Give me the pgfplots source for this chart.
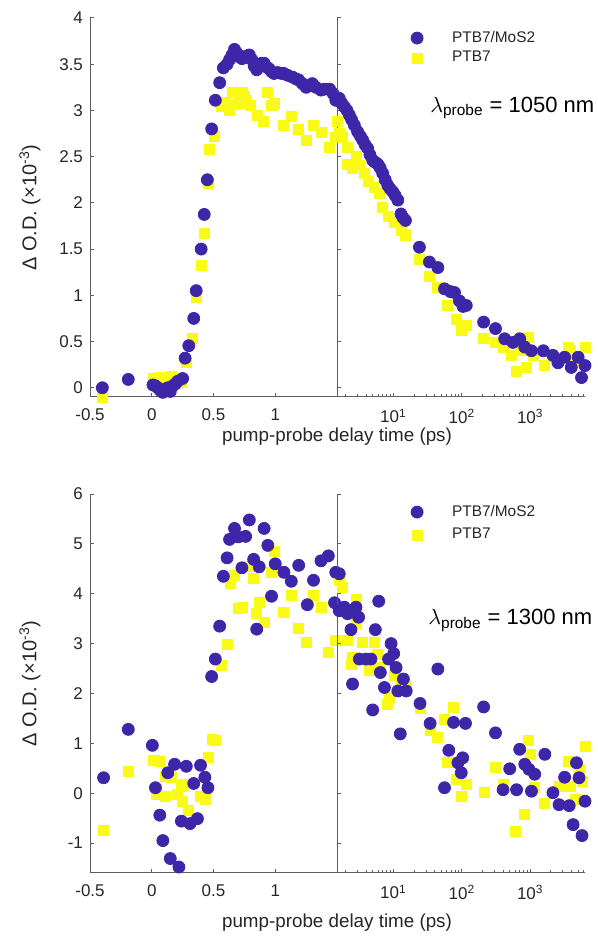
\documentclass[border=0pt]{standalone}
\usepackage{pgfplots}
\pgfplotsset{compat=1.18}
\usepackage{fontspec}
\setmainfont{Liberation Sans}

\definecolor{pblue}{RGB}{62,38,168}
\definecolor{pyellow}{RGB}{249,251,21}
\definecolor{axc}{RGB}{95,95,95}
\definecolor{txt}{RGB}{38,38,38}

\tikzset{
  sblue/.style={only marks, mark=*, mark size=3pt, mark options={fill=pblue, draw=pblue}},
  syel/.style={only marks, mark=square*, mark size=2.5pt, mark options={fill=pyellow, draw=pyellow}},
}

\pgfplotsset{
  panel/.style={
    scale only axis, clip=false, height=189.5pt,
    axis x line*=bottom, axis y line*=left,
    axis line style={draw=axc, line width=0.5pt},
    every tick/.style={draw=axc, line width=0.5pt},
    tick align=inside, major tick length=2pt, minor tick length=1.4pt,
    ticklabel style={font=\fontsize{8.5}{10}\selectfont, text=txt},
    xticklabel style={yshift=-2.5pt},
  },
  lin/.style={panel, width=123.5pt, xmin=-0.5, xmax=1.5,
    xtick={-0.5,0,0.5,1}, xticklabels={-0.5,0,0.5,1},
    ylabel style={at={(axis description cs:-0.243,0.5)}, anchor=center,
      font=\fontsize{10}{12}\selectfont, text=txt}},
  logp/.style={panel, width=124pt, xmin=1.5, xmax=6300,
    xtick={10,100,1000},
    xticklabels={10\textsuperscript{1},10\textsuperscript{2},10\textsuperscript{3}},
    minor xtick={2,3,4,5,6,7,8,9,20,30,40,50,60,70,80,90,200,300,400,500,600,700,800,900,2000,3000,4000,5000,6000},
    yticklabels={},
    legend cell align=left,
    legend style={at={(rel axis cs:0.323,1)}, anchor=north west, xshift=-4pt, yshift=-5.5pt,
      draw=none, fill=none, inner sep=0pt, outer sep=0pt, row sep=1pt,
      nodes={inner sep=1pt},
      font=\fontsize{7.7}{9}\selectfont, text=txt}},
}

\begin{document}
\begin{tikzpicture}
\useasboundingbox (0,0) rectangle (299pt,468pt);

% ---------- top panel, 1050 nm ----------
\begin{axis}[lin, at={(45pt,269.5pt)}, anchor=south west, ymin=-0.1, ymax=4,
  ytick={0,0.5,1,1.5,2,2.5,3,3.5,4}, yticklabels={0,0.5,1,1.5,2,2.5,3,3.5,4},
  ylabel={Δ O.D. (×10\textsuperscript{-3})}]
\addplot[syel] coordinates {
(-0.40,-0.10) (0.01,0.10) (0.06,0.11) (0.11,0.10) (0.16,0.12) (0.21,0.10) (0.24,0.06)
(0.28,0.27) (0.33,0.53) (0.36,0.98) (0.40,1.32) (0.425,1.67) (0.455,2.21) (0.47,2.58)
(0.51,2.72) (0.56,3.04) (0.60,3.09) (0.63,3.00) (0.65,3.20) (0.68,3.06) (0.70,3.17)
(0.71,3.08) (0.735,3.19) (0.75,3.15) (0.77,3.11) (0.80,3.05) (0.855,2.95) (0.90,2.88)
(0.935,3.19) (0.97,3.05) (0.99,3.08) (1.07,2.84) (1.13,2.93) (1.19,2.79) (1.25,2.68)
(1.31,2.84) (1.37,2.76) (1.44,2.60) (1.49,2.71)
};
\addplot[sblue] coordinates {
(-0.40,0.00) (-0.19,0.09) (0.01,0.03) (0.03,0.02) (0.05,0.00) (0.07,-0.03) (0.09,-0.05)
(0.11,-0.02) (0.13,0.00) (0.15,-0.04) (0.17,0.02) (0.19,0.04) (0.21,0.07) (0.25,0.10)
(0.27,0.32) (0.30,0.455) (0.34,0.75) (0.36,1.05) (0.40,1.50) (0.425,1.875) (0.45,2.25)
(0.485,2.80) (0.515,3.11) (0.55,3.30) (0.58,3.46) (0.61,3.50) (0.63,3.55) (0.65,3.60)
(0.67,3.66) (0.69,3.62) (0.71,3.58) (0.73,3.56) (0.75,3.57) (0.77,3.59) (0.79,3.60)
(0.81,3.55) (0.83,3.48) (0.85,3.44) (0.87,3.48) (0.89,3.51) (0.91,3.51) (0.93,3.47)
(0.95,3.45) (0.97,3.42) (0.99,3.40) (1.02,3.41) (1.05,3.40) (1.07,3.40) (1.10,3.38)
(1.14,3.36) (1.17,3.34) (1.19,3.33) (1.22,3.29) (1.25,3.25) (1.28,3.27) (1.30,3.29)
(1.33,3.25) (1.37,3.22) (1.40,3.23) (1.44,3.23) (1.47,3.18) (1.49,3.11)
};
\node[font=\fontsize{9.4}{11}\selectfont, text=txt] at (rel axis cs:1,0) [yshift=-20pt] {pump-probe delay time (ps)};
\end{axis}

\begin{axis}[logp, xmode=log, at={(168.5pt,269.5pt)}, anchor=south west, ymin=-0.1, ymax=4,
  ytick={0,0.5,1,1.5,2,2.5,3,3.5,4},
  legend image code/.code={\draw[#1] plot coordinates {(0pt,0pt)}; \path[draw=none, fill=none] (-4pt,-3pt) rectangle (16.5pt,3pt);}]
\addlegendimage{sblue}\addlegendentry{PTB7/MoS2}
\addlegendimage{syel}\addlegendentry{PTB7}
\addplot[syel, forget plot] coordinates {
(1.53,2.88) (1.62,2.75) (1.81,2.71) (2.14,2.60) (2.14,2.42) (2.40,2.42) (2.54,2.37) (2.84,2.50)
(3.18,2.41) (3.76,2.32) (4.35,2.23) (5.25,2.17) (6.2,2.10) (7.0,1.95) (8.5,1.85)
(10.3,1.79) (12.9,1.70) (15,1.65) (24,1.39) (33.6,1.20) (44.6,1.09) (62,0.89) (83,0.74)
(98,0.62) (116,0.67) (208,0.53) (310,0.49) (400,0.44) (526,0.35) (630,0.18) (740,0.40)
(870,0.22) (930,0.55) (1100,0.35) (1630,0.24) (2400,0.31) (3560,0.44) (3800,0.40)
(4220,0.33) (4700,0.27) (6300,0.44)
};
\addplot[sblue, forget plot] coordinates {
(1.62,3.13) (1.75,3.08) (1.92,3.04) (2.1,3.00) (2.27,2.95) (2.45,2.90) (2.69,2.84)
(3.0,2.77) (3.3,2.72) (3.55,2.68) (3.85,2.63) (4.2,2.59) (4.55,2.52) (4.98,2.46)
(5.4,2.44) (5.9,2.42) (6.4,2.38) (6.97,2.32) (7.6,2.25) (8.26,2.19) (9.0,2.15)
(9.77,2.12) (10.6,2.08) (11.6,2.03) (12.9,1.88) (13.8,1.84) (15.0,1.81) (24,1.52)
(33.6,1.36) (44.6,1.30) (55.8,1.07) (68,1.04) (78,1.03) (92,0.94) (104,0.88) (116,0.89)
(208,0.71) (310,0.64) (422,0.53) (558,0.49) (700,0.53) (830,0.44) (1040,0.40)
(1550,0.40) (2140,0.35) (2540,0.27) (3170,0.33) (3970,0.22) (5000,0.33) (5600,0.11)
(6300,0.24)
};
\node[anchor=west, font=\fontsize{11}{13}\selectfont, text=black, inner sep=0pt] at (rel axis cs:0.375,0.7625) {$\lambda$\textsubscript{probe} = 1050 nm};
\end{axis}

% ---------- bottom panel, 1300 nm ----------
\begin{axis}[lin, at={(45pt,31.5pt)}, anchor=south west, ymin=-1.6, ymax=6,
  ytick={-1,0,1,2,3,4,5,6}, yticklabels={-1,0,1,2,3,4,5,6},
  ylabel={Δ O.D. (×10\textsuperscript{-3})}]
\addplot[syel] coordinates {
(-0.39,-0.75) (-0.19,0.43) (0.01,0.66) (0.065,0.64) (0.04,-0.03) (0.11,-0.06) (0.11,0.34)
(0.16,0.32) (0.21,-0.03) (0.24,0.14) (0.25,-0.16) (0.26,0.17) (0.30,-0.35) (0.39,-0.06)
(0.435,-0.13) (0.455,0.72) (0.49,1.08) (0.515,1.06) (0.56,2.56) (0.61,2.99) (0.64,4.2)
(0.67,4.37) (0.70,3.70) (0.73,3.73) (0.79,4.54) (0.82,4.30) (0.845,3.60) (0.87,3.83)
(0.91,3.43) (0.965,4.43) (0.99,4.84) (1.07,3.63) (1.13,3.97) (1.19,3.30) (1.25,3.03)
(1.31,3.97) (1.37,3.73) (1.43,2.83) (1.49,3.06)
};
\addplot[sblue] coordinates {
(-0.39,0.31) (-0.19,1.28) (0.005,0.96) (0.03,0.11) (0.065,-0.44) (0.09,-0.95) (0.13,0.41)
(0.15,-1.31) (0.185,0.58) (0.22,-1.48) (0.24,-0.56) (0.28,0.54) (0.31,-0.61) (0.34,0.195)
(0.37,-0.51) (0.395,0.56) (0.43,0.32) (0.455,0.11) (0.485,2.34) (0.515,2.69) (0.55,3.35)
(0.58,4.35) (0.61,4.72) (0.63,5.09) (0.67,5.31) (0.70,5.14) (0.73,4.52) (0.76,5.15)
(0.79,5.48) (0.825,4.69) (0.85,3.29) (0.87,4.54) (0.91,5.31) (0.94,4.97) (0.97,3.95)
(1.0,4.60) (1.07,4.43) (1.13,4.25) (1.19,4.57) (1.26,3.78) (1.31,4.27) (1.37,4.66)
(1.43,4.76) (1.49,4.43) (1.48,3.82)
};
\node[font=\fontsize{9.4}{11}\selectfont, text=txt] at (rel axis cs:1,0) [yshift=-25pt] {pump-probe delay time (ps)};
\end{axis}

\begin{axis}[logp, xmode=log, at={(168.5pt,31.5pt)}, anchor=south west, ymin=-1.6, ymax=6,
  ytick={-1,0,1,2,3,4,5,6},
  legend style={row sep=2.5pt, yshift=1pt},
  legend image code/.code={\draw[#1] plot coordinates {(0pt,0pt)}; \path[draw=none, fill=none] (-4pt,-3pt) rectangle (16.5pt,3pt);}]
\addlegendimage{sblue}\addlegendentry{PTB7/MoS2}
\addlegendimage{syel}\addlegendentry{PTB7}
\addplot[syel, forget plot] coordinates {
(1.62,4.27) (1.81,4.13) (2.14,3.06) (2.53,2.72) (2.4,2.59) (2.84,3.88) (2.84,3.40)
(3.47,3.03) (4.46,2.46) (5.25,3.03) (5.9,2.79) (6.24,2.52) (8.26,1.78) (8.7,1.92)
(10.3,2.36) (12.9,2.25) (15.7,2.15) (24.5,1.70) (34.4,1.25) (44.6,1.11) (55.8,1.48)
(62,0.61) (75.6,1.73) (83,0.28) (98,-0.06) (116,0.17) (214,0.01) (310,0.52) (400,0.17)
(611,-0.76) (815,-0.42) (930,1.06) (1010,0.78) (1160,0.11) (1630,-0.20) (2630,0.14)
(3550,0.64) (3860,0.14) (4630,-0.13) (5250,0.48) (5700,0.24) (6300,0.93)
};
\addplot[sblue, forget plot] coordinates {
(1.62,4.40) (1.62,3.66) (1.92,3.73) (2.14,3.60) (2.4,3.66) (2.84,3.73) (3.1,3.53)
(2.4,3.28) (2.53,2.19) (3.18,2.69) (3.98,2.69) (4.7,2.69) (4.98,1.67) (5.45,3.28)
(6.1,3.85) (6.45,2.42) (7.4,2.12) (8.5,2.69) (9.25,3.00) (10.1,2.80) (10.95,2.52)
(11.6,2.05) (12.6,1.19) (14,2.29) (15.4,2.05) (24.5,1.80) (34.4,1.40) (44.6,2.49)
(55.8,0.11) (64.5,0.86) (75.6,1.42) (87.6,0.61) (98,0.41) (103,0.71) (113,1.40)
(208,1.73) (310,1.21) (400,0.07) (500,0.49) (630,0.07) (700,0.88) (830,0.58)
(955,0.48) (1040,0.04) (1160,0.38) (1630,0.78) (2140,0.01) (2630,-0.23) (3170,0.32)
(3700,-0.25) (4220,-0.63) (4730,0.61) (5150,0.31) (5700,-0.85) (6300,-0.16)
};
\node[anchor=west, font=\fontsize{11}{13}\selectfont, text=black, inner sep=0pt] at (rel axis cs:0.367,0.667) {$\lambda$\textsubscript{probe} = 1300 nm};
\end{axis}
\end{tikzpicture}
\end{document}
